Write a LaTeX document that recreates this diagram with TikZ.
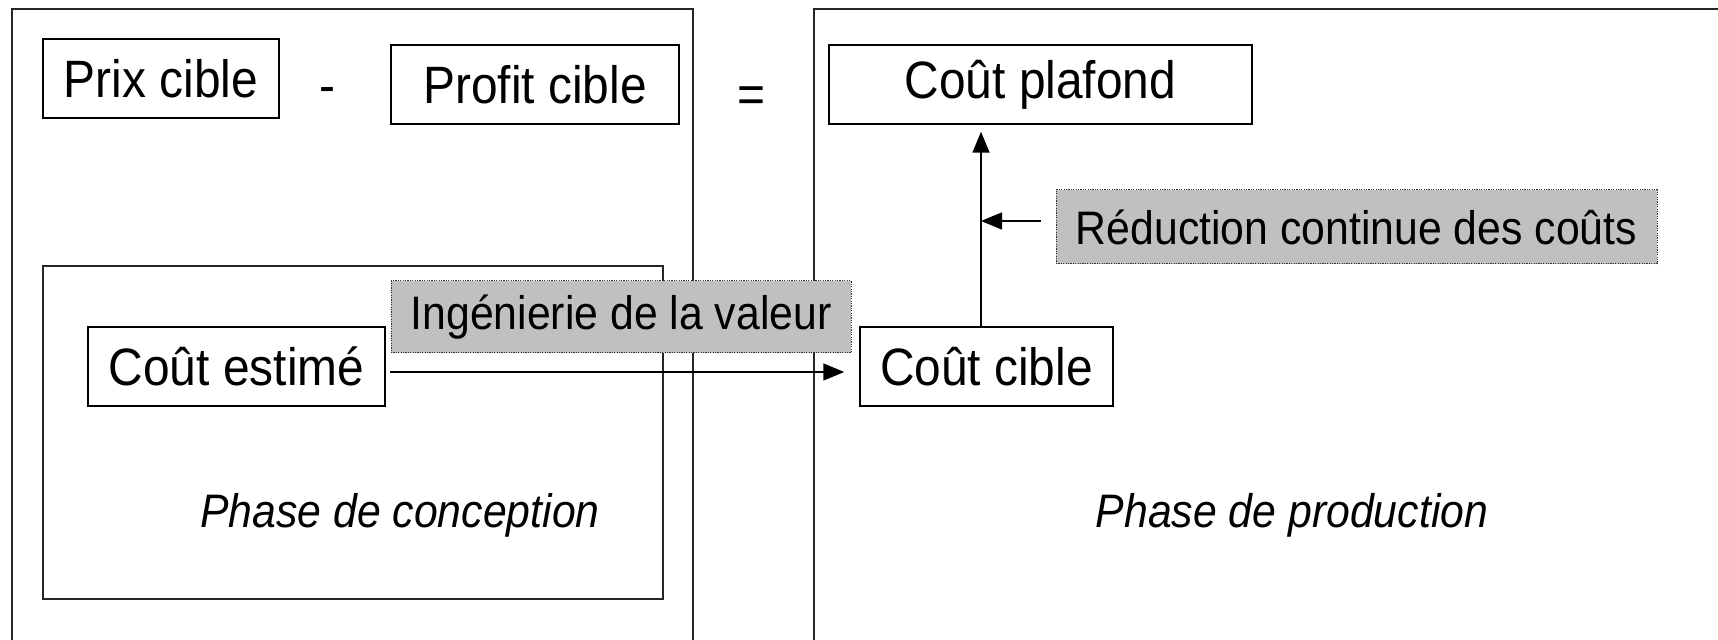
\documentclass[tikz,border=0pt]{standalone}
\usepackage{fontspec}
\setmainfont{Liberation Sans}[FakeStretch=0.91]
\usetikzlibrary{arrows.meta}
\definecolor{boxgray}{HTML}{C0C0C0}
\tikzset{
  costbox/.style={draw=black, line width=0.75pt, inner sep=0pt,
                  minimum height=39.5pt, font=\fontsize{26.3}{31}\selectfont},
  methodbox/.style={draw=black!80, fill=boxgray, line width=0.5pt,
                    dash pattern=on 0.6pt off 0.6pt, inner sep=0pt,
                    font=\fontsize{23.5}{28}\selectfont},
  phaselabel/.style={font=\fontsize{23.5}{28}\selectfont\itshape},
  arr/.style={line width=0.75pt, -{Triangle[length=10.5pt, width=8.5pt]}}
}
\begin{document}
\begin{tikzpicture}[x=0.5pt, y=-0.5pt]
  \useasboundingbox (0, 0) rectangle (1718, 640);
  \clip (0, 0) rectangle (1718, 640);
  \draw [black!85, line width=0.65pt] (12, 9) rectangle (693, 700);
  \draw [black!85, line width=0.65pt] (814, 9) rectangle (1800, 700);
  \draw [black!85, line width=0.65pt] (43, 266) rectangle (663, 599);
  \node [costbox, minimum width=118pt] (prix) at (161, 78.5) {Prix cible};
  \node [font=\fontsize{26.3}{31}\selectfont] (moins) at (327, 95) {-};
  \node [costbox, minimum width=144pt] (profit) at (535, 84.5) {Profit cible};
  \node [font=\fontsize{26.3}{31}\selectfont] (egal) at (751, 100) {=};
  \node [costbox, minimum width=211.5pt] (plafond) at (1040.5, 84.5) {Coût plafond};
  \node [methodbox, minimum width=230pt, minimum height=36pt] (valeur) at (621, 317) {Ingénierie de la valeur};
  \node [costbox, minimum width=148.5pt] (estime) at (236.5, 366.5) {Coût estimé};
  \node [costbox, minimum width=126.5pt] (cible) at (986.5, 366.5) {Coût cible};
  \node [methodbox, minimum width=300.5pt, minimum height=37pt] (reduction) at (1356.5, 227) {Réduction continue des coûts};
  \node [phaselabel] (conception) at (400, 515) {Phase de conception};
  \node [phaselabel] (production) at (1292, 515) {Phase de production};
  \coordinate (jonction) at ([xshift=-2.75pt]cible.north |- reduction.west);
  \draw [arr] ([xshift=2pt, yshift=-2.75pt]estime.east) -- ([xshift=-7.5pt, yshift=-2.75pt]cible.west);
  \draw [arr] ([xshift=-2.75pt]cible.north) -- ([xshift=-2.75pt, yshift=-3.5pt]cible.north |- plafond.south);
  \draw [arr] ([xshift=-7.5pt, yshift=3pt]reduction.west) -- ([yshift=3pt]jonction);
\end{tikzpicture}
\end{document}
